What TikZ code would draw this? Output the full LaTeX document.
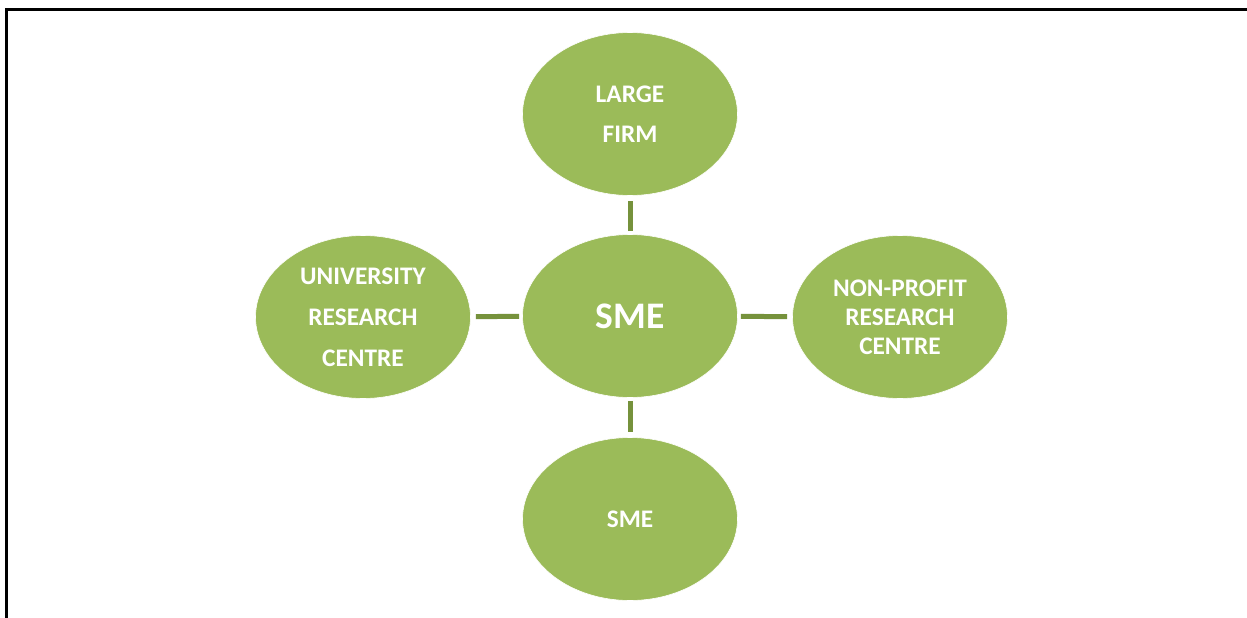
\documentclass[tikz,border=0pt]{standalone}
\usepackage{fontspec}
\setmainfont{Carlito}
\usetikzlibrary{shapes.geometric}
\definecolor{leaf}{HTML}{9BBB59}
\definecolor{stem}{HTML}{76923C}
\begin{document}
\begin{tikzpicture}[x=1pt,y=-1pt,
  blob/.style={ellipse, fill=leaf, draw=white, line width=0.6pt,
    minimum width=215pt, minimum height=163pt, inner sep=0pt,
    text=white, font=\bfseries, align=center},
  link/.style={stem, line width=5pt, shorten <=3pt, shorten >=5pt}]
\useasboundingbox (0,0) rectangle (1247,618);
% frame edges
\draw[line width=3pt] (6.5,700) -- (6.5,10) -- (1300,10);
% ellipses
\node[blob, font=\bfseries\fontsize{37.5}{40}\selectfont] (core) at (630,316) {SME};
\node[blob, font=\bfseries\fontsize{25.3}{40}\selectfont] (large) at (630,114) {LARGE\\FIRM};
\node[blob, font=\bfseries\fontsize{25.3}{41}\selectfont] (univ) at (363,317) {UNIVERSITY\\RESEARCH\\CENTRE};
\node[blob, font=\bfseries\fontsize{25.3}{29}\selectfont] (nonprofit) at (900,317) {NON-PROFIT\\RESEARCH\\CENTRE};
\node[blob, font=\bfseries\fontsize{25.3}{30}\selectfont] (sme) at (630,519) {SME};
% connectors
\draw[link] (core) -- (large);
\draw[link] (core) -- (univ);
\draw[link] (core) -- (nonprofit);
\draw[link] (core) -- (sme);
\end{tikzpicture}
\end{document}
